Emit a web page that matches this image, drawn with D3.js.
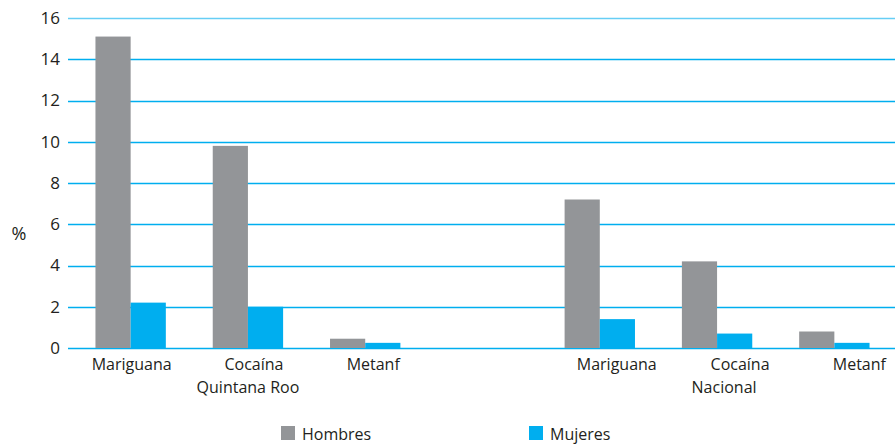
<!DOCTYPE html>
<html>
<head>
<meta charset="utf-8">
<script src="https://cdn.jsdelivr.net/npm/d3@7"></script>
<style>
  body { margin: 0; background: #fff; }
  svg { display: block; }
  text { font-family: "Open Sans", "Noto Sans", sans-serif; fill: #231f20; }
</style>
</head>
<body>
<svg id="chart" width="895" height="448"></svg>
<script>
// DATA
const slots = ["qr-mar", "qr-coc", "qr-met", "gap", "na-mar", "na-coc", "na-met"];
const drugLabels = ["Mariguana", "Cocaína", "Metanf", "", "Mariguana", "Cocaína", "Metanf"];
const regionLabels = ["Quintana Roo", "Nacional"];
const regionSlots = ["qr-coc", "na-coc"];
const hombres = [15.1, 9.8, 0.45, null, 7.2, 4.2, 0.8];
const mujeres = [2.2, 2.0, 0.25, null, 1.4, 0.7, 0.25];
const seriesNames = ["Hombres", "Mujeres"];
const yTicks = [0, 2, 4, 6, 8, 10, 12, 14, 16];

const colors = ["#939598", "#00aeef"];
const gridColor = "#00aeef";

// label nudges as in the original layout (px)
const drugShift = [1, 6, 8, 0, 17, 23, 25];
const regionShift = [0, 7];

const svg = d3.select("#chart");

const x = d3.scaleBand()
  .domain(slots)
  .range([72, 893])
  .paddingInner(0.4)
  .paddingOuter(0.2);

const sub = d3.scaleBand()
  .domain(seriesNames)
  .range([0, x.bandwidth()]);

const y = d3.scaleLinear()
  .domain([0, 16])
  .range([348, 18]);

// gridlines
svg.append("g")
  .selectAll("line")
  .data(yTicks)
  .join("line")
  .attr("x1", 68)
  .attr("x2", 895)
  .attr("y1", d => Math.round(y(d)) + 0.5)
  .attr("y2", d => Math.round(y(d)) + 0.5)
  .attr("stroke", gridColor)
  .attr("stroke-opacity", d => d === 16 ? 0.6 : 1)
  .attr("stroke-width", 1.3);

// y tick labels
svg.append("g")
  .selectAll("text")
  .data(yTicks)
  .join("text")
  .attr("x", 60)
  .attr("y", d => y(d))
  .attr("dy", "0.35em")
  .attr("text-anchor", "end")
  .attr("font-size", 17)
  .text(d => d);

svg.append("text")
  .attr("x", 19)
  .attr("y", 234)
  .attr("dy", "0.35em")
  .attr("text-anchor", "middle")
  .attr("font-size", 18)
  .text("%");

// bars
const rows = slots.map((s, i) => ({ slot: s, vals: [hombres[i], mujeres[i]] }))
  .filter(r => r.vals[0] !== null);

svg.append("g")
  .selectAll("g")
  .data(rows)
  .join("g")
  .attr("transform", d => `translate(${x(d.slot)},0)`)
  .selectAll("rect")
  .data(d => d.vals.map((v, j) => ({ name: seriesNames[j], v: v, c: colors[j] })))
  .join("rect")
  .attr("x", d => sub(d.name))
  .attr("width", sub.bandwidth())
  .attr("y", d => y(d.v))
  .attr("height", d => y(0) - y(d.v))
  .attr("fill", d => d.c);

// category labels
svg.append("g")
  .selectAll("text")
  .data(slots.filter((s, i) => drugLabels[i] !== ""))
  .join("text")
  .attr("x", d => x(d) + x.bandwidth() / 2 + drugShift[slots.indexOf(d)])
  .attr("y", 370)
  .attr("text-anchor", "middle")
  .attr("font-size", 16)
  .text(d => drugLabels[slots.indexOf(d)]);

svg.append("g")
  .selectAll("text")
  .data(regionSlots)
  .join("text")
  .attr("x", (d, i) => x(d) + x.bandwidth() / 2 + regionShift[i])
  .attr("y", 393)
  .attr("text-anchor", "middle")
  .attr("font-size", 16)
  .text((d, i) => regionLabels[i]);

// legend
const legendX = [281, 529];
const legend = svg.append("g")
  .selectAll("g")
  .data(seriesNames)
  .join("g")
  .attr("transform", (d, i) => `translate(${legendX[i]},426)`);

legend.append("rect")
  .attr("width", 14)
  .attr("height", 14)
  .attr("fill", (d, i) => colors[i]);

legend.append("text")
  .attr("x", 21)
  .attr("y", 14)
  .attr("font-size", 16)
  .text(d => d);
</script>
</body>
</html>
